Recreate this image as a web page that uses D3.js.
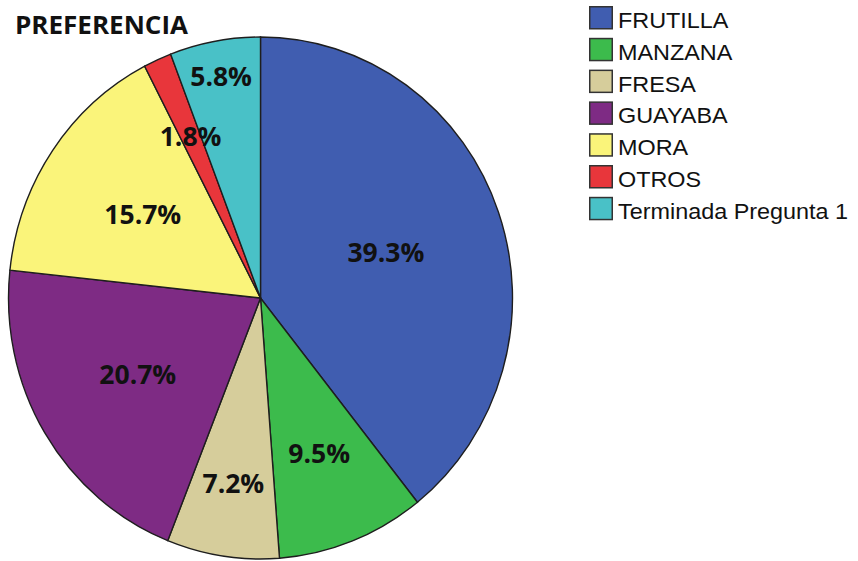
<!DOCTYPE html>
<html><head><meta charset="utf-8">
<script src="https://cdn.jsdelivr.net/npm/d3@7"></script>
<style>html,body{margin:0;padding:0;background:#fff;}svg{display:block;}</style>
</head><body>
<svg id="chart" width="858" height="561"></svg>
<script>
const categories = ["FRUTILLA","MANZANA","FRESA","GUAYABA","MORA","OTROS","Terminada Pregunta 1"];
const values = [39.3, 9.5, 7.2, 20.7, 15.7, 1.8, 5.8];
const labels = ["39.3%","9.5%","7.2%","20.7%","15.7%","1.8%","5.8%"];
const colors = ["#405DB0","#3CBB4C","#D6CD9B","#7E2B84","#FAF47A","#E8363B","#49C1C7"];
const labelRadius = [0.527, 0.638, 0.717, 0.569, 0.566, 0.679, 0.863];
const title = "PREFERENCIA";

const svg = d3.select("#chart");
const cx = 260.5, cy = 298, rx = 252, ry = 261;

svg.append("text").attr("x", 15).attr("y", 34)
  .attr("font-family", "'Open Sans', sans-serif").attr("font-weight", 700)
  .attr("font-size", 25).attr("textLength", 173).attr("lengthAdjust", "spacingAndGlyphs")
  .attr("fill", "#111").text(title);

const pie = d3.pie().sort(null).value(d => d);
const arcs = pie(values);
const arc = d3.arc().innerRadius(0).outerRadius(rx);

const g = svg.append("g").attr("transform", `translate(${cx},${cy}) scale(1,${ry/rx})`);
g.selectAll("path").data(arcs).join("path")
  .attr("d", arc)
  .attr("fill", (d, i) => colors[i])
  .attr("stroke", "#1e1e1e").attr("stroke-width", 1.4)
  .attr("vector-effect", "non-scaling-stroke");

const lg = svg.append("g").attr("transform", `translate(${cx},${cy})`);
lg.selectAll("text").data(arcs).join("text")
  .attr("x", (d, i) => Math.sin((d.startAngle + d.endAngle) / 2) * labelRadius[i] * rx)
  .attr("y", (d, i) => -Math.cos((d.startAngle + d.endAngle) / 2) * labelRadius[i] * ry + 9.5)
  .attr("text-anchor", "middle")
  .attr("font-family", "'Open Sans', sans-serif").attr("font-weight", 700)
  .attr("font-size", 26.5).attr("fill", "#111")
  .text((d, i) => labels[i]);

const leg = svg.append("g").attr("transform", "translate(589,6)");
const rows = leg.selectAll("g").data(categories).join("g")
  .attr("transform", (d, i) => `translate(0,${i * 31.8})`);
rows.append("rect").attr("x", 0.75).attr("y", 0.75).attr("width", 22.5).attr("height", 22)
  .attr("fill", (d, i) => colors[i]).attr("stroke", "#333").attr("stroke-width", 1.5);
rows.append("text").attr("transform", "translate(29,22) scale(1.04,1)")
  .attr("font-family", "'Liberation Sans', Arial, sans-serif").attr("font-size", 22.5)
  .attr("fill", "#111").text(d => d);
</script>
</body></html>
